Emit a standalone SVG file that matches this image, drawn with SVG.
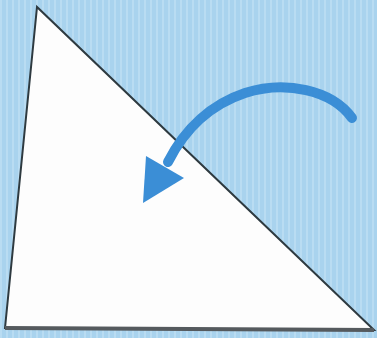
<svg xmlns="http://www.w3.org/2000/svg" width="377" height="338" viewBox="0 0 377 338">
<defs>
<pattern id="stripes" width="6" height="10" patternUnits="userSpaceOnUse">
<rect width="6" height="10" fill="#a9d3ee"/>
<rect x="0" width="2" height="10" fill="#b9dcf2"/>
</pattern>
<style>
.tri{fill:#fdfdfd;stroke:#2e3a40;stroke-width:2;stroke-linejoin:miter}
.arrow{fill:none;stroke:#3b8ed6;stroke-width:10;stroke-linecap:round}
.head{fill:#3b8ed6}
</style>
</defs>
<rect width="377" height="338" fill="url(#stripes)"/>
<g id="triangle">
<polygon class="tri" points="37,7 5,328 374,330"/>
<line x1="5" y1="328" x2="374" y2="330" stroke="#555a5e" stroke-width="4"/>
</g>
<g id="connectors">
<path class="arrow" d="M352,118 C332,90 285,80 245,93 C212,104 185,128 168,162"/>
<polygon class="head" points="146,156 143,203 184,178"/>
</g>
</svg>
